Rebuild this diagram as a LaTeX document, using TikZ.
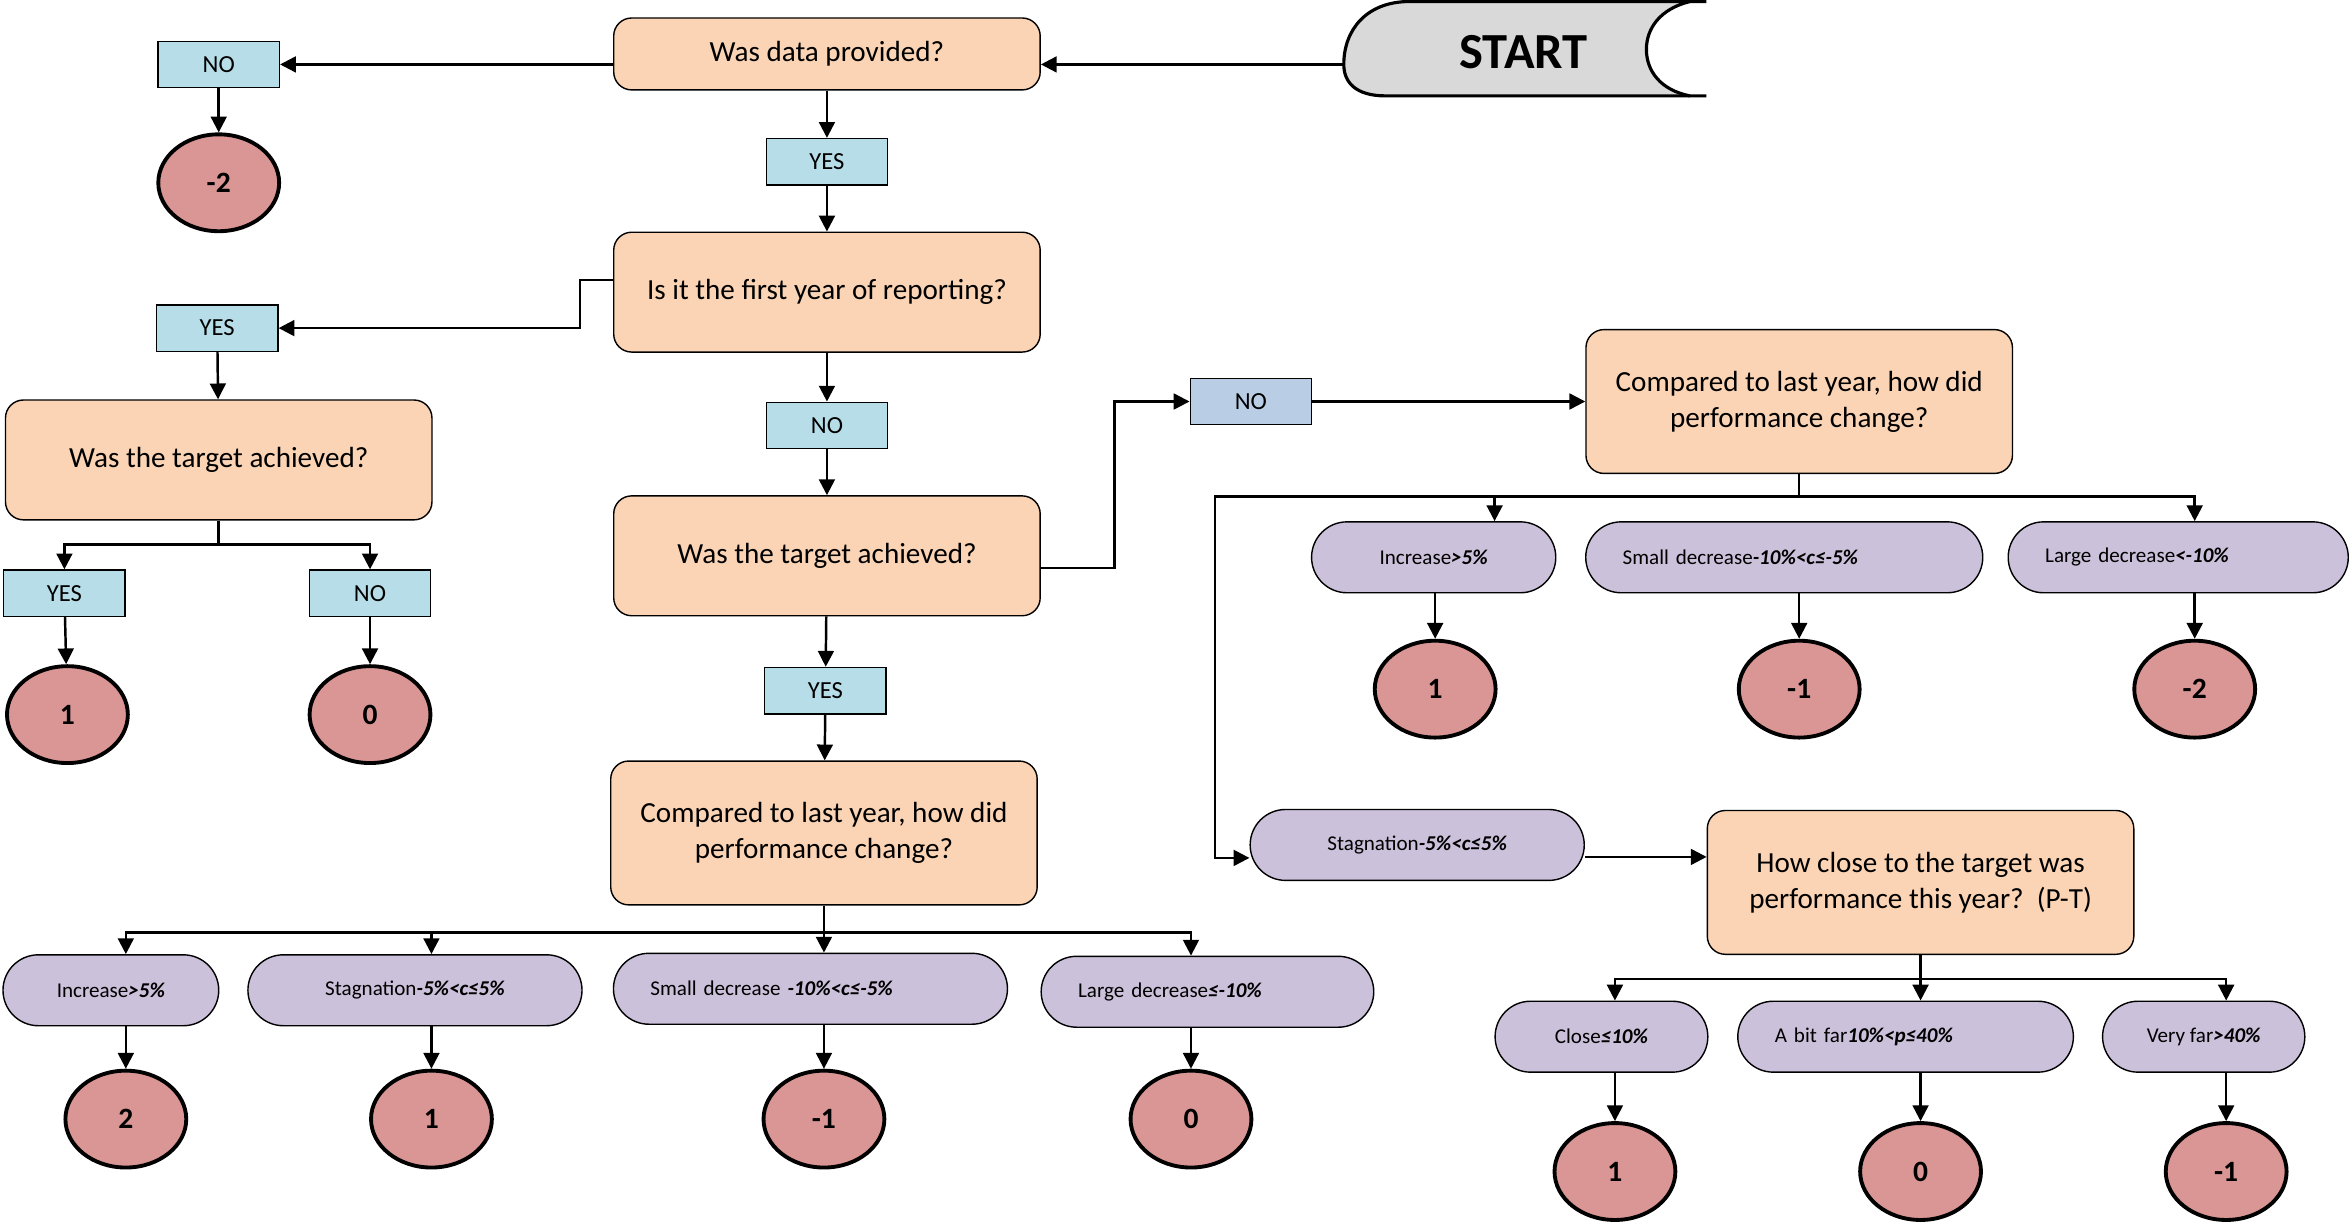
\documentclass[tikz,border=0pt]{standalone}
\usepackage{fontspec}
\setmainfont{Carlito}
\usepackage{tikz}
\usetikzlibrary{shapes.geometric,arrows.meta}
\definecolor{qfill}{HTML}{FAD4B4}
\definecolor{afill}{HTML}{B7DEE8}
\definecolor{nfill}{HTML}{B9CDE5}
\definecolor{sfill}{HTML}{D99694}
\definecolor{cfill}{HTML}{CCC1DA}
\definecolor{gfill}{HTML}{D9D9D9}
\newcommand{\bi}[1]{\textbf{\textit{#1}}}
\tikzstyle{every node}=[font=\fontsize{8.3}{10.2}\selectfont]
\tikzstyle{quest}=[draw, line width=0.4pt, fill=qfill, rounded corners=0.18cm, align=center, minimum width=4.27cm, inner sep=0pt]
\tikzstyle{answer}=[draw, line width=0.4pt, fill=afill, minimum width=1.215cm, minimum height=0.465cm, inner sep=0pt, font=\fontsize{7}{8}\selectfont]
\tikzstyle{score}=[draw, ellipse, line width=1.1pt, fill=sfill, minimum width=1.21cm, minimum height=0.97cm, inner sep=0pt, font=\fontsize{8.4}{10}\selectfont\bfseries]
\tikzstyle{change}=[draw, line width=0.4pt, fill=cfill, rounded corners=0.355cm, minimum height=0.71cm, inner sep=0pt, font=\fontsize{6}{7}\selectfont]
\tikzstyle{padl}=[align=left, inner xsep=0.37cm]
\tikzstyle{arr}=[line width=0.7pt, -{Triangle[width=4.5pt,length=4.5pt]}]
\tikzstyle{ln}=[line width=0.7pt]

\begin{document}
\begin{tikzpicture}[x=0.015cm, y=-0.015cm]
\useasboundingbox (0,0) rectangle (1568,818);

\fill[gfill] (941,1) -- (1128,1) .. controls (1108,6) and (1099,19) .. (1099,33)
  .. controls (1099,47) and (1108,60) .. (1128,64) -- (925,64)
  .. controls (905,64) and (897,55) .. (897,43) .. controls (897,20) and (912,1) .. (941,1) -- cycle;
\draw[line width=0.9pt] (1139,1) -- (941,1) .. controls (912,1) and (897,20) .. (897,43)
  .. controls (897,55) and (905,64) .. (925,64) -- (1139,64);
\draw[line width=0.9pt] (1128,1) .. controls (1108,6) and (1099,19) .. (1099,33)
  .. controls (1099,47) and (1108,60) .. (1128,64);
\node[font=\fontsize{14.4}{16}\selectfont\bfseries] (start) at (1017,35) {START};
\coordinate (startin) at (897,43);

\node[quest, minimum height=0.72cm] (q1) at (552,36) {Was data provided?};
\node[quest, minimum height=1.2cm] (q2) at (552,195) {Is it the first year of reporting?};
\node[quest, minimum height=1.2cm] (q3) at (146,307) {Was the target achieved?};
\node[quest, minimum height=1.2cm] (q4) at (552,371) {Was the target achieved?};
\node[quest, minimum height=1.44cm] (q5) at (550,556) {Compared to last year, how did\\performance change?};
\node[quest, minimum height=1.44cm] (q6) at (1201,268) {Compared to last year, how did\\performance change?};
\node[quest, minimum height=1.44cm] (q7) at (1282,589) {How close to the target was\\performance this year?~~(P-T)};

\node[answer] (noA) at (146,43) {NO};
\node[answer] (yesA) at (552,108) {YES};
\node[answer] (yesB) at (145,219) {YES};
\node[answer] (noB) at (552,284) {NO};
\node[answer] (yesC) at (43,396) {YES};
\node[answer] (noC) at (247,396) {NO};
\node[answer] (yesD) at (551,461) {YES};
\node[answer, fill=nfill] (noD) at (835,268) {NO};

\foreach \n/\x/\y/\s in {r1/146/122/-2, r2/45/477/1, r3/247/477/0, r4/84/747/2, r5/288/747/1,
  r6/550/747/-1, r7/795/747/0, r8/958/460/1, r9/1201/460/-1, r10/1465/460/-2,
  r11/1078/782/1, r12/1282/782/0, r13/1486/782/-1}
  \node[score] (\n) at (\x,\y) {\s};

\node[change, minimum width=2.16cm] (p1) at (74,661) {Increase\bi{>5\%}};
\node[change, minimum width=3.345cm] (p2) at (277,661) {Stagnation\bi{-5\%<c≤5\%}};
\node[change, padl, text width=3.205cm] (p3) at (541,660) {Small decrease \bi{-10\%<c≤-5\%}};
\node[change, padl, text width=2.59cm] (p4) at (806,662) {Large decrease\bi{≤-10\%}};
\node[change, minimum width=2.445cm] (p5) at (957,372) {Increase\bi{>5\%}};
\node[change, padl, text width=3.235cm] (p6) at (1191,372) {Small decrease\bi{-10\%<c≤-5\%}};
\node[change, padl, text width=2.665cm] (p7) at (1454,372) {Large decrease\bi{<-10\%}};
\node[change, minimum width=3.345cm] (p8) at (946,564) {Stagnation\bi{-5\%<c≤5\%}};
\node[change, minimum width=2.13cm] (p9) at (1069,692) {Close\bi{≤10\%}};
\node[change, padl, text width=2.62cm] (p10) at (1272,692) {A bit far\bi{10\%<p≤40\%}};
\node[change, minimum width=2.025cm] (p11) at (1471,692) {Very far\bi{>40\%}};

\draw[arr] (startin) -- (startin -| q1.east);
\draw[arr] (q1.west |- noA) -- (noA.east);
\draw[arr] (noA) -- (r1);
\draw[arr] (q1) -- (yesA);
\draw[arr] (yesA) -- (q2);
\draw[arr] ([yshift=0.12cm]q2.west) -- ++(-22,0) |- (yesB.east);
\draw[arr] (yesB) -- (q3);
\draw[ln] (q3.south) -- ++(0,16) coordinate (q3fork);
\draw[arr] (q3fork) -| (yesC.north);
\draw[arr] (q3fork) -| (noC.north);
\draw[arr] (yesC) -- (r2);
\draw[arr] (noC) -- (r3);
\draw[arr] (q2) -- (noB);
\draw[arr] (noB) -- (q4);
\draw[arr] ([yshift=-0.12cm]q4.east) -- ++(49,0) |- (noD.west);
\draw[arr] (noD) -- (q6);
\draw[arr] (q4) -- (yesD);
\draw[arr] (yesD) -- (q5);

\draw[ln] (q5.south) -- ++(0,18) coordinate (q5fork);
\foreach \p/\r in {p1/r4,p2/r5,p3/r6,p4/r7} {
  \draw[arr] (q5fork) -| (\r |- \p.north);
  \draw[arr] (\r |- \p.south) -- (\r.north);
}

\draw[ln] (q6.south) -- ++(0,15) coordinate (q6fork);
\draw[arr] (q6fork) -| ([xshift=0.61cm]p5.north);
\draw[arr] (q6fork) -| (r10 |- p7.north);
\draw[arr] (q6fork) -- ++(-390,0) |- ([yshift=-0.13cm]p8.west);
\foreach \p/\r in {p5/r8,p6/r9,p7/r10}
  \draw[arr] (\r |- \p.south) -- (\r.north);
\draw[arr] ([yshift=-0.12cm]p8.east) coordinate (p8out) -- (p8out -| q7.west);

\draw[ln] (q7.south) -- ++(0,16) coordinate (q7fork);
\foreach \p/\r in {p9/r11,p10/r12,p11/r13} {
  \draw[arr] (q7fork) -| (\r |- \p.north);
  \draw[arr] (\r |- \p.south) -- (\r.north);
}
\end{tikzpicture}
\end{document}
